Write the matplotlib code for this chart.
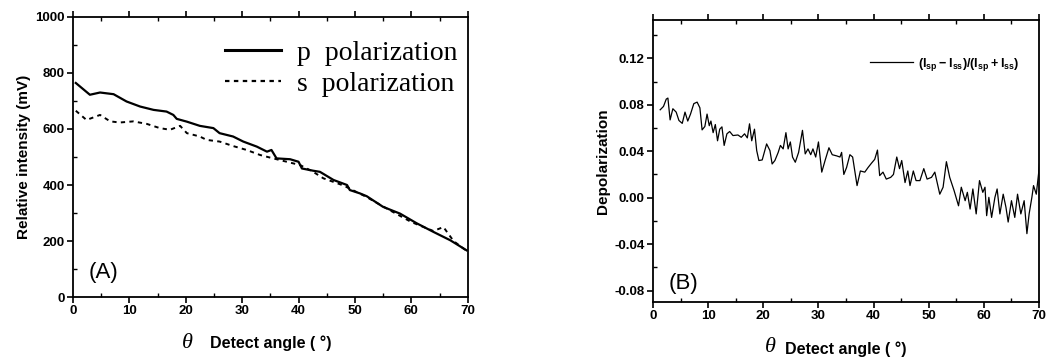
import matplotlib
matplotlib.use("Agg")
import matplotlib.pyplot as plt
from matplotlib.ticker import MultipleLocator, FormatStrFormatter
from matplotlib.lines import Line2D
from matplotlib.transforms import blended_transform_factory

plt.rcParams['font.family'] = ['Liberation Sans', 'DejaVu Sans']
plt.rcParams['mathtext.default'] = 'regular'

# ---- Panel A data ----
p_angle = [0.5, 3.0, 4.8, 7.2, 9.5, 11.9, 14.3, 16.6, 17.8, 18.4, 20.2, 22.5, 24.9, 26.0,
           28.4, 30.2, 32.6, 34.4, 35.2, 36.1, 38.5, 40.0, 40.6, 42.6, 43.8, 46.2, 48.6,
           49.1, 50.9, 52.1, 55.0, 58.0, 61.0, 63.9, 66.9, 69.8]
p_int = [764, 722, 730, 724, 698, 680, 668, 662, 650, 636, 626, 611, 603, 585,
         573, 555, 537, 519, 525, 495, 492, 483, 459, 451, 447, 418, 400,
         382, 370, 360, 322, 298, 263, 233, 203, 167]
s_angle = [0.5, 2.4, 4.8, 6.6, 8.3, 10.7, 13.1, 15.4, 17.2, 19.0, 20.2, 22.5, 23.7, 26.0,
           28.4, 30.8, 33.2, 35.5, 37.9, 40.3, 42.6, 44.4, 48.0, 52.0, 56.0, 60.0,
           63.9, 65.7, 67.5, 69.8]
s_int = [665, 632, 650, 627, 623, 627, 618, 603, 597, 611, 585, 573, 561, 555,
         539, 525, 507, 495, 483, 471, 447, 424, 398, 358, 312, 268,
         236, 250, 200, 165]

# ---- Panel B data ----
d_angle = [1.3, 1.9, 2.4, 2.7, 3.1, 3.6, 4.2, 4.7, 5.3, 5.8, 6.3, 6.8, 7.4, 8.0, 8.5, 8.9,
           9.4, 9.8, 10.2, 10.5, 10.9, 11.3, 11.7, 12.1, 12.5, 12.9, 13.4, 13.9, 14.5, 15.4,
           16.0, 16.6, 17.1, 17.5, 17.9, 18.4, 18.8, 19.2, 19.8, 20.6, 21.2, 21.6, 22.1,
           22.7, 23.1, 23.6, 24.1, 24.5, 24.9, 25.3, 25.8, 26.4, 27.1, 27.6, 28.1, 28.6,
           29.0, 29.5, 30.0, 30.6, 31.2, 31.9, 32.5, 33.3, 33.9, 34.2, 34.6, 35.1, 35.7,
           36.2, 37.0, 37.6, 38.4, 39.0, 39.6, 40.2, 40.7, 41.1, 41.7, 42.3, 43.1, 43.6,
           44.2, 44.7, 45.1, 45.7, 46.2, 46.6, 47.2, 47.7, 48.4, 49.1, 49.7, 50.5, 51.1,
           52.0, 52.6, 53.2, 53.8, 54.6, 55.4, 55.9, 56.6, 57.0, 57.5, 58.0, 58.6, 59.2,
           59.8, 60.2, 60.5, 60.9, 61.4, 62.0, 62.4, 62.9, 63.5, 64.0, 64.4, 65.0, 65.6,
           66.1, 66.7, 67.3, 67.8, 68.2, 68.7, 69.0, 69.5, 69.9, 70.2]
d_val = [0.0757, 0.0786, 0.0849, 0.0858, 0.067, 0.0766, 0.0737, 0.0665, 0.064, 0.0737,
         0.066, 0.072, 0.081, 0.0823, 0.0774, 0.0584, 0.0613, 0.072, 0.062, 0.066, 0.056,
         0.063, 0.049, 0.059, 0.061, 0.045, 0.055, 0.057, 0.0535, 0.054, 0.052, 0.055,
         0.0515, 0.0636, 0.049, 0.059, 0.0406, 0.032, 0.0325, 0.0463, 0.0406, 0.029, 0.032,
         0.039, 0.045, 0.042, 0.056, 0.042, 0.048, 0.035, 0.0305, 0.039, 0.058, 0.0377,
         0.042, 0.037, 0.042, 0.035, 0.048, 0.022, 0.032, 0.043, 0.037, 0.036, 0.035,
         0.039, 0.020, 0.026, 0.037, 0.035, 0.0104, 0.023, 0.022, 0.026, 0.0296, 0.033,
         0.041, 0.019, 0.022, 0.016, 0.0175, 0.020, 0.035, 0.025, 0.032, 0.013, 0.023,
         0.0104, 0.023, 0.0147, 0.0147, 0.025, 0.016, 0.0175, 0.022, 0.003, 0.009, 0.031,
         0.0175, 0.006, -0.007, 0.009, -0.0026, 0.0046, -0.0098, 0.0075, -0.014, 0.0147,
         0.0046, 0.009, -0.0155, 0.0003, -0.017, 0.0003, 0.0075, -0.014, 0.003, -0.0083,
         -0.021, -0.0026, -0.017, 0.003, -0.014, -0.0026, -0.031, -0.014, 0.0003, 0.0104,
         0.003, 0.020, 0.035]

fig = plt.figure(figsize=(10.47, 3.58), dpi=100)
axA = fig.add_axes([0.0697, 0.170, 0.377, 0.783])
axB = fig.add_axes([0.6237, 0.156, 0.3687, 0.788])

def style(ax):
    for s in ax.spines.values():
        s.set_linewidth(1.3)
    ax.tick_params(which='major', direction='out', length=4, width=1.2,
                   labelsize=9.5, top=True, right=False, pad=2)
    ax.tick_params(which='minor', direction='in', length=3, width=1.0,
                   top=True, right=False)
    for lab in ax.get_xticklabels() + ax.get_yticklabels():
        lab.set_fontweight('bold')

def xlabel_with_theta(ax, xfrac, yfig, lab_pad):
    ax.set_xlabel('Detect angle ( °)', fontsize=11.5, fontweight='bold', labelpad=lab_pad)
    tr = blended_transform_factory(ax.transAxes, fig.transFigure)
    ax.text(xfrac, yfig, 'θ', transform=tr, fontsize=16, family='Liberation Serif',
            style='italic', ha='center', va='center')

axA.plot(p_angle, p_int, color='black', lw=1.6)
axA.plot(s_angle, s_int, color='black', lw=1.4, ls=(0, (2.2, 2.2)))
axA.set_xlim(0, 70)
axA.set_ylim(0, 1000)
axA.xaxis.set_major_locator(MultipleLocator(10))
axA.xaxis.set_minor_locator(MultipleLocator(5))
axA.yaxis.set_major_locator(MultipleLocator(200))
axA.yaxis.set_minor_locator(MultipleLocator(100))
style(axA)
axA.set_ylabel('Relative intensity (mV)', fontsize=11, fontweight='bold', labelpad=3)
xlabel_with_theta(axA, 0.29, 1 - 343 / 358, 13)
handles = [Line2D([], [], color='black', lw=2.2),
           Line2D([], [], color='black', lw=1.6, ls=(0, (2, 2)))]
axA.legend(handles, ['p  polarization', 's  polarization'], loc='upper right',
           bbox_to_anchor=(0.975, 0.915), frameon=False, handlelength=2.0, handletextpad=0.6,
           labelspacing=0.2, borderpad=0.0, borderaxespad=0.0,
           prop={'family': 'Liberation Serif', 'size': 20})
axA.text(0.04, 0.07, '(A)', transform=axA.transAxes, fontsize=16)

axB.plot(d_angle, d_val, color='black', lw=0.9)
axB.set_xlim(0, 70)
axB.set_ylim(-0.09, 0.153)
axB.xaxis.set_major_locator(MultipleLocator(10))
axB.xaxis.set_minor_locator(MultipleLocator(5))
axB.yaxis.set_major_locator(MultipleLocator(0.04))
axB.yaxis.set_minor_locator(MultipleLocator(0.02))
axB.yaxis.set_major_formatter(FormatStrFormatter('%.2f'))
style(axB)
axB.set_ylabel('Depolarization', fontsize=11, fontweight='bold', labelpad=3)
xlabel_with_theta(axB, 0.303, 1 - 348 / 358, 14)
hB = [Line2D([], [], color='black', lw=0.9)]
axB.legend(hB, [r'$(I_{sp}-I_{ss})/(I_{sp}+I_{ss})$'], loc='upper right',
           bbox_to_anchor=(0.97, 0.90), frameon=False, handlelength=3.5, handletextpad=0.4,
           borderpad=0.1, prop={'size': 9, 'weight': 'bold'})
axB.text(0.04, 0.045, '(B)', transform=axB.transAxes, fontsize=16)

fig.savefig('out.png', dpi=100)
